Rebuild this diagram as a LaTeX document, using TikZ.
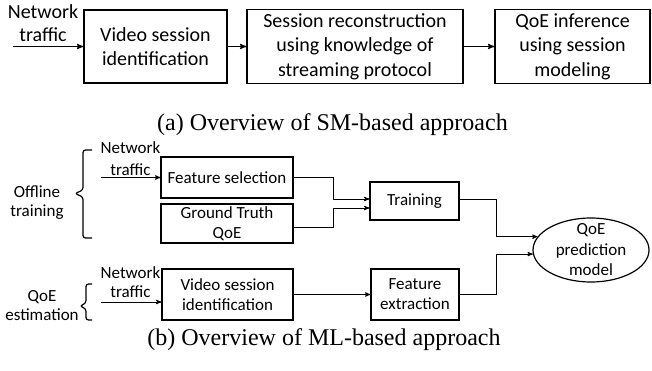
\documentclass[tikz,border=0pt]{standalone}
\usepackage{fontspec}
\setmainfont{Carlito}
\newfontfamily\capfont{Liberation Serif}
\usepackage{tikz}
\usetikzlibrary{arrows,shapes.geometric}
\begin{document}
\begin{tikzpicture}[->,>=stealth',semithick,x=1pt,y=-1pt]
          \tikzstyle{boxa}=[draw=black,line width=1.6pt,align=center,inner sep=0pt,font=\fontsize{20}{24.5}\selectfont]
          \tikzstyle{boxb}=[draw=black,line width=1.2pt,align=center,inner sep=0pt,font=\fontsize{17}{20}\selectfont]
          \tikzstyle{lbla}=[align=center,inner sep=0pt,font=\fontsize{20}{23}\selectfont]
          \tikzstyle{lblb}=[align=center,inner sep=0pt,font=\fontsize{17}{19}\selectfont]
          \tikzstyle{capt}=[inner sep=0pt,font=\capfont\fontsize{24}{28}\selectfont]
          \tikzstyle{flowa}=[line width=1.2pt]
          \tikzstyle{flowb}=[line width=0.9pt]
          \tikzstyle{brk}=[-,line width=1.2pt,rounded corners=2.5pt]
          \useasboundingbox (0,0) rectangle (652,371);
          \node[lbla]    (nta)    at (43,23.5)     {Network\\traffic};
          \node[boxa,minimum width=143,minimum height=73] (vsid)   at (155.5,46.5) {Video session\\identification};
          \node[boxa,minimum width=216,minimum height=74] (recon)  at (355,46.5)   {Session reconstruction\\using knowledge of\\streaming protocol};
          \node[boxa,minimum width=155,minimum height=74] (qoeinf) at (572.5,46.5) {QoE inference\\using session\\modeling};
          \coordinate (nta-in) at (13,46.5);
          \node[capt]    (capa)   at (332.5,125)   {(a) Overview of SM-based approach};
          \node[lblb,font=\fontsize{17}{22}\selectfont] (ntb1) at (130.5,159) {Network\\traffic};
          \node[lblb]    (ntb2)   at (130.5,282.5) {Network\\traffic};
          \node[lblb]    (offl)   at (37,203)      {Offline\\training};
          \node[lblb]    (qest)   at (42,306)      {QoE\\estimation};
          \node[boxb,minimum width=132,minimum height=41] (fsel)  at (227,177.5) {Feature selection};
          \node[boxb,minimum width=132,minimum height=39] (gtru)  at (227,223.5) {Ground Truth\\QoE};
          \node[boxb,minimum width=89,minimum height=38]  (train) at (414.5,201) {Training};
          \node[boxb,minimum width=131,minimum height=51] (vsidb) at (227.5,294.5) {Video session\\identification};
          \node[boxb,minimum width=88,minimum height=51]  (fext)  at (415,294.5) {Feature\\extraction};
          \node[ellipse,draw=black,line width=1.2pt,align=center,inner xsep=3pt,inner ysep=-8pt,minimum width=116,minimum height=64,font=\fontsize{17}{20.5}\selectfont] (qoe) at (591,250) {QoE\\prediction\\model};
          \coordinate (ntb1-in) at (101,177.5);
          \coordinate (ntb2-in) at (101,302);
          \node[capt]    (capb)   at (324,340)     {(b) Overview of ML-based approach};
          \path[flowa]
          (nta-in) edge (vsid)
          (vsid) edge (recon)
          (recon) edge (qoeinf);
          \draw[flowb] (ntb1-in) -- (fsel);
          \draw[flowb] (ntb2-in) -- (ntb2-in -| vsidb.west);
          \draw[flowb] (fsel.east) -- ++(40,0) |- ([yshift=2pt]train.west);
          \draw[flowb] ([yshift=-3.5pt]gtru.east) -- ++(40,0) |- ([yshift=-7pt]train.west);
          \draw[flowb] ([yshift=2pt]train.east) -- ++(37,0) |- (qoe.166);
          \draw[flowb] (vsidb) -- (fext);
          \draw[flowb] (fext.east) -- ++(37,0) |- (qoe.184);
          \draw[brk] (92,150) -- (83,150) -- (83,190) -- (75,193.5) -- (83,197) -- (83,238) -- (92,238);
          \draw[brk] (92,284) -- (86,284) -- (86,303) -- (80,306) -- (86,309) -- (86,320) -- (92,320);
        \end{tikzpicture}
\end{document}
